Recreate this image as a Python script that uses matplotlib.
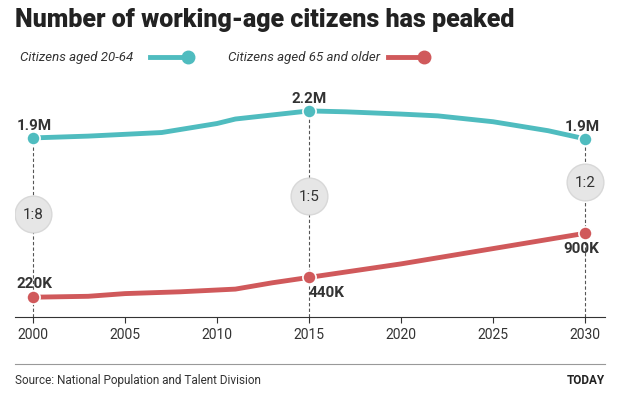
import matplotlib.pyplot as plt
from matplotlib.lines import Line2D

years_w = [2000, 2003, 2007, 2010, 2011, 2013, 2015, 2017, 2020, 2022, 2025, 2028, 2030]
working = [1.99, 2.01, 2.05, 2.15, 2.20, 2.245, 2.29, 2.28, 2.255, 2.235, 2.17, 2.07, 1.98]
years_o = [2000, 2003, 2005, 2008, 2011, 2013, 2015, 2017, 2020, 2025, 2030]
older = [0.22, 0.23, 0.26, 0.28, 0.31, 0.38, 0.44, 0.50, 0.59, 0.76, 0.93]
ratio_years = [2000, 2015, 2030]
ratio_labels = ["1:8", "1:5", "1:2"]
ratio_y = [1.14, 1.34, 1.50]
xticks = [2000, 2005, 2010, 2015, 2020, 2025, 2030]

teal = "#4fbcbf"
red = "#d0595b"
grey_text = "#333333"

plt.rcParams['font.family'] = ['Roboto', 'DejaVu Sans']
fig = plt.figure(figsize=(6.4, 4.06), dpi=100)
ax = fig.add_axes([15 / 640, (406 - 318) / 406, 590 / 640, 223 / 406])
ax.set_xlim(1999.02, 2031.09)
ax.set_ylim(0, 2.478)

for i, yr in enumerate(ratio_years):
    top = working[years_w.index(yr)]
    ax.plot([yr, yr], [0, top], ls=(0, (3, 2)), color="#555555", lw=0.8, zorder=1)
    ax.scatter([yr], [ratio_y[i]], s=700, color="#e6e6e6", edgecolor="#d8d8d8", zorder=2)
    ax.text(yr, ratio_y[i], ratio_labels[i], ha="center", va="center", fontsize=11, color=grey_text, zorder=3)

ax.plot(years_w, working, color=teal, lw=3.5, zorder=4, solid_capstyle="round")
ax.plot(years_o, older, color=red, lw=3.5, zorder=4, solid_capstyle="round")
for yr in ratio_years:
    ax.scatter([yr], [working[years_w.index(yr)]], s=90, color=teal, edgecolor="white", lw=1.2, zorder=5)
    ax.scatter([yr], [older[years_o.index(yr)]], s=90, color=red, edgecolor="white", lw=1.2, zorder=5)

ax.text(1999.1, 2.06, "1.9M", fontsize=11, fontweight="bold", color=grey_text, ha="left", va="bottom")
ax.text(2015, 2.36, "2.2M", fontsize=11, fontweight="bold", color=grey_text, ha="center", va="bottom")
ax.text(2030.8, 2.05, "1.9M", fontsize=11, fontweight="bold", color=grey_text, ha="right", va="bottom")
ax.text(1999.1, 0.30, "220K", fontsize=11, fontweight="bold", color=grey_text, ha="left", va="bottom")
ax.text(2015, 0.36, "440K", fontsize=11, fontweight="bold", color=grey_text, ha="left", va="top")
ax.text(2030.8, 0.84, "900K", fontsize=11, fontweight="bold", color=grey_text, ha="right", va="top")

ax.set_xticks(xticks)
ax.set_xticklabels([str(x) for x in xticks], fontsize=10, color=grey_text)
ax.tick_params(axis="x", length=4, color="#333333")
ax.set_yticks([])
for s in ["top", "right", "left"]:
    ax.spines[s].set_visible(False)
ax.spines["bottom"].set_color("#333333")

fig.text(15 / 640, 1 - 20 / 406, "Number of working-age citizens has peaked", fontsize=18,
         fontweight="black", color="#222222", va="center", ha="left")

# legend
fig.text(20 / 640, 1 - 58 / 406, "Citizens aged 20-64", fontsize=9.5, style="italic", color=grey_text, va="center")
fig.add_artist(Line2D([150 / 640, 188 / 640], [1 - 58 / 406] * 2, color=teal, lw=3.5))
fig.add_artist(Line2D([188 / 640], [1 - 58 / 406], marker="o", ms=9, color=teal))
fig.text(228 / 640, 1 - 58 / 406, "Citizens aged 65 and older", fontsize=9.5, style="italic", color=grey_text, va="center")
fig.add_artist(Line2D([388 / 640, 424 / 640], [1 - 58 / 406] * 2, color=red, lw=3.5))
fig.add_artist(Line2D([424 / 640], [1 - 58 / 406], marker="o", ms=9, color=red))

fig.add_artist(Line2D([15 / 640, 605 / 640], [1 - 365 / 406] * 2, color="#999999", lw=0.8))
fig.text(15 / 640, 1 - 381 / 406, "Source: National Population and Talent Division", fontsize=8.5, color=grey_text, va="center")
fig.text(605 / 640, 1 - 381 / 406, "TODAY", fontsize=8.5, fontweight="bold", color="#222222", va="center", ha="right")

fig.savefig("out.png", dpi=100, facecolor="white")
